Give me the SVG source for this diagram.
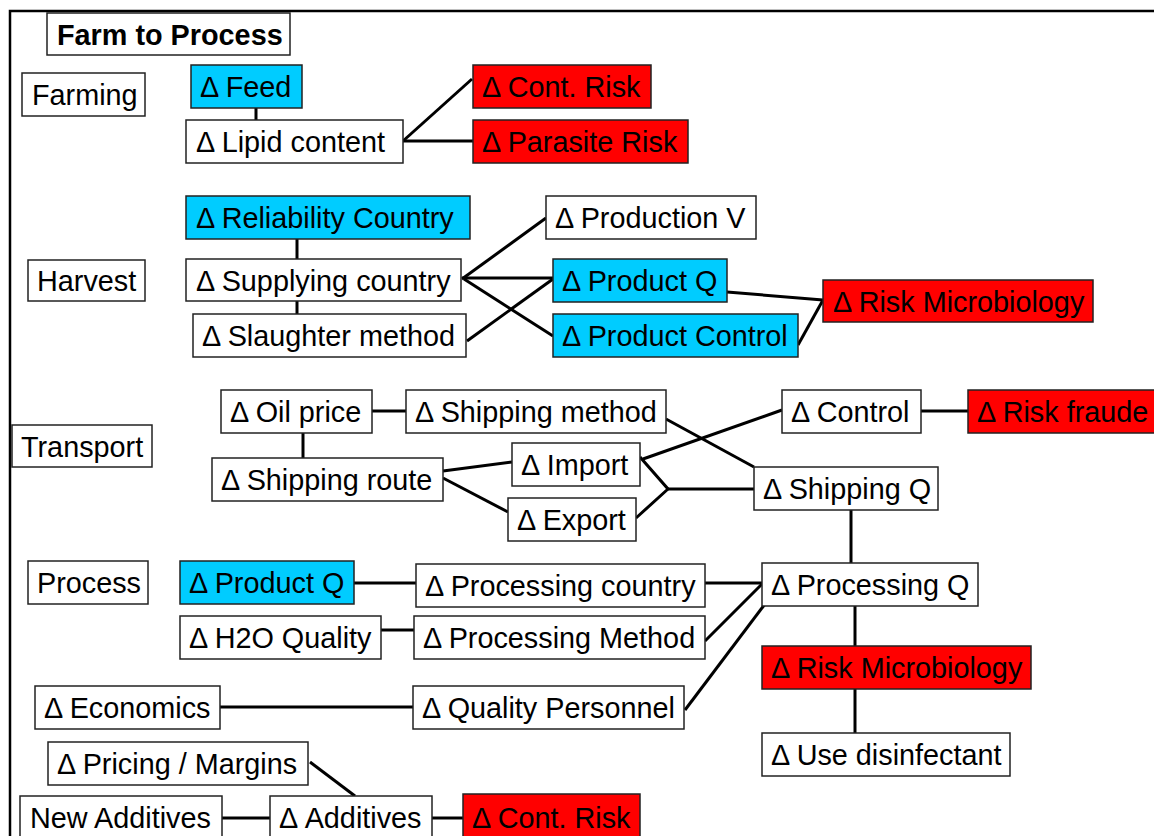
<svg xmlns="http://www.w3.org/2000/svg" width="1154" height="836" viewBox="0 0 1154 836">
<style>
.b rect{stroke:#222;stroke-width:1.5}
.w rect{fill:#fff}
.c rect{fill:#00CCFF}
.r rect{fill:#FF0000}
text{font-family:"Liberation Sans",Arial,sans-serif;font-size:28.8px;fill:#000}
.t text{font-weight:bold}
#conn line,#conn polyline{stroke:#000;stroke-width:3;fill:none}
</style>
<rect width="1154" height="836" fill="#fff"/>
<g id="frame"><polyline points="10,836 10,11 1154,11" fill="none" stroke="#000" stroke-width="2.5"/></g>
<g id="conn">
<line x1="256" y1="108" x2="256" y2="120"/>
<line x1="403" y1="141" x2="472" y2="79"/>
<line x1="403" y1="141" x2="473" y2="141"/>
<line x1="297" y1="239" x2="297" y2="259"/>
<line x1="297" y1="301" x2="297" y2="314"/>
<line x1="462" y1="279" x2="546" y2="218"/>
<line x1="462" y1="278" x2="553" y2="278"/>
<line x1="464" y1="279" x2="553" y2="336"/>
<line x1="467" y1="341" x2="553" y2="279"/>
<line x1="727" y1="292" x2="823" y2="300"/>
<line x1="798" y1="345" x2="823" y2="300"/>
<line x1="372" y1="411" x2="406" y2="411"/>
<line x1="303" y1="433" x2="303" y2="458"/>
<line x1="443" y1="471" x2="512" y2="462"/>
<line x1="443" y1="478" x2="508" y2="512"/>
<line x1="666" y1="419" x2="754" y2="467"/>
<line x1="643" y1="459" x2="782" y2="410"/>
<line x1="921" y1="411" x2="968" y2="411"/>
<polyline points="640,457 668,489 636,518"/>
<line x1="668" y1="489" x2="754" y2="489"/>
<line x1="851" y1="510" x2="851" y2="563"/>
<line x1="354" y1="583" x2="416" y2="583"/>
<line x1="705" y1="583" x2="762" y2="583"/>
<line x1="381" y1="630" x2="414" y2="630"/>
<line x1="705" y1="641" x2="762" y2="584"/>
<line x1="685" y1="710" x2="765" y2="604"/>
<line x1="220" y1="707" x2="413" y2="707"/>
<line x1="855" y1="606" x2="855" y2="646"/>
<line x1="855" y1="689" x2="855" y2="733"/>
<line x1="310" y1="762" x2="355" y2="796"/>
<line x1="222" y1="818" x2="270" y2="818"/>
<line x1="432" y1="818" x2="463" y2="818"/>
</g>
<g id="n-title" class="b w t"><rect x="47" y="13" width="243" height="42"/><text x="57" y="45">Farm to Process</text></g>
<g id="n-farming" class="b w"><rect x="22" y="73" width="123" height="43"/><text x="32" y="105">Farming</text></g>
<g id="n-feed" class="b c"><rect x="191" y="65" width="111" height="43"/><text x="200" y="97">Δ Feed</text></g>
<g id="n-lipid" class="b w"><rect x="186" y="120" width="217" height="43"/><text x="196" y="152">Δ Lipid content</text></g>
<g id="n-contrisk1" class="b r"><rect x="473" y="65" width="178" height="43"/><text x="482" y="97">Δ Cont. Risk</text></g>
<g id="n-parasite" class="b r"><rect x="473" y="120" width="215" height="43"/><text x="482" y="152">Δ Parasite Risk</text></g>
<g id="n-harvest" class="b w"><rect x="28" y="260" width="117" height="41"/><text x="37" y="291">Harvest</text></g>
<g id="n-reliab" class="b c"><rect x="186" y="196" width="284" height="43"/><text x="196" y="228">Δ Reliability Country</text></g>
<g id="n-supply" class="b w"><rect x="186" y="259" width="275" height="42"/><text x="196" y="291">Δ Supplying country</text></g>
<g id="n-slaughter" class="b w"><rect x="193" y="314" width="273" height="43"/><text x="202" y="346">Δ Slaughter method</text></g>
<g id="n-prodv" class="b w"><rect x="546" y="196" width="210" height="43"/><text x="555" y="228">Δ Production V</text></g>
<g id="n-prodq1" class="b c"><rect x="553" y="259" width="174" height="43"/><text x="562" y="291">Δ Product Q</text></g>
<g id="n-prodctrl" class="b c"><rect x="553" y="314" width="245" height="43"/><text x="562" y="346">Δ Product Control</text></g>
<g id="n-riskmicro1" class="b r"><rect x="823" y="280" width="270" height="42"/><text x="833" y="312">Δ Risk Microbiology</text></g>
<g id="n-transport" class="b w"><rect x="12" y="425" width="140" height="42"/><text x="21" y="457">Transport</text></g>
<g id="n-oil" class="b w"><rect x="221" y="390" width="151" height="43"/><text x="230" y="422">Δ Oil price</text></g>
<g id="n-shipmethod" class="b w"><rect x="406" y="390" width="260" height="43"/><text x="415" y="422">Δ Shipping method</text></g>
<g id="n-shiproute" class="b w"><rect x="212" y="458" width="231" height="43"/><text x="221" y="490">Δ Shipping route</text></g>
<g id="n-import" class="b w"><rect x="512" y="443" width="128" height="43"/><text x="521" y="475">Δ Import</text></g>
<g id="n-export" class="b w"><rect x="508" y="498" width="128" height="43"/><text x="517" y="530">Δ Export</text></g>
<g id="n-control" class="b w"><rect x="782" y="390" width="139" height="43"/><text x="791" y="422">Δ Control</text></g>
<g id="n-fraude" class="b r"><rect x="968" y="390" width="195" height="43"/><text x="977" y="422">Δ Risk fraude</text></g>
<g id="n-shipq" class="b w"><rect x="754" y="467" width="184" height="43"/><text x="763" y="499">Δ Shipping Q</text></g>
<g id="n-process" class="b w"><rect x="28" y="561" width="120" height="43"/><text x="37" y="593">Process</text></g>
<g id="n-prodq2" class="b c"><rect x="180" y="561" width="174" height="43"/><text x="189" y="593">Δ Product Q</text></g>
<g id="n-proccountry" class="b w"><rect x="416" y="564" width="289" height="43"/><text x="425" y="596">Δ Processing country</text></g>
<g id="n-h2o" class="b w"><rect x="180" y="616" width="201" height="43"/><text x="189" y="648">Δ H2O Quality</text></g>
<g id="n-procmethod" class="b w"><rect x="414" y="616" width="291" height="43"/><text x="423" y="648">Δ Processing Method</text></g>
<g id="n-econ" class="b w"><rect x="35" y="686" width="185" height="43"/><text x="44" y="718">Δ Economics</text></g>
<g id="n-qualpers" class="b w"><rect x="413" y="686" width="271" height="43"/><text x="422" y="718">Δ Quality Personnel</text></g>
<g id="n-procq" class="b w"><rect x="762" y="563" width="216" height="43"/><text x="771" y="595">Δ Processing Q</text></g>
<g id="n-riskmicro2" class="b r"><rect x="762" y="646" width="269" height="43"/><text x="771" y="678">Δ Risk Microbiology</text></g>
<g id="n-disinf" class="b w"><rect x="762" y="733" width="248" height="43"/><text x="771" y="765">Δ Use disinfectant</text></g>
<g id="n-pricing" class="b w"><rect x="48" y="742" width="260" height="43"/><text x="57" y="774">Δ Pricing / Margins</text></g>
<g id="n-newadd" class="b w"><rect x="20" y="796" width="202" height="45"/><text x="30" y="828">New Additives</text></g>
<g id="n-additives" class="b w"><rect x="270" y="796" width="162" height="45"/><text x="279" y="828">Δ Additives</text></g>
<g id="n-contrisk2" class="b r"><rect x="463" y="794" width="177" height="47"/><text x="472" y="828">Δ Cont. Risk</text></g>
</svg>
